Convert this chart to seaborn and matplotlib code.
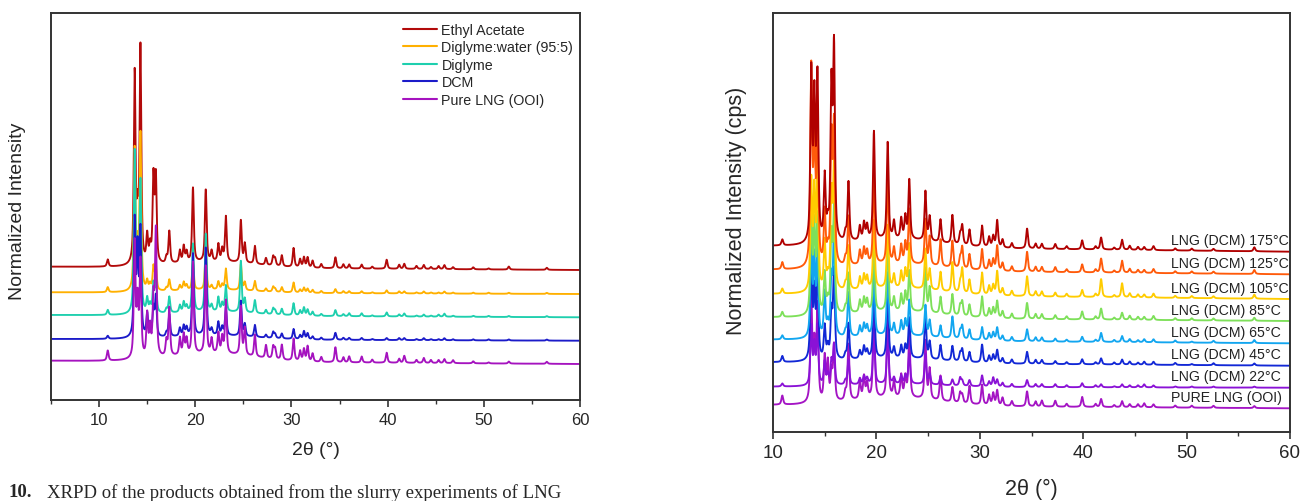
import numpy as np
import pandas as pd
import matplotlib
matplotlib.use("Agg")
import matplotlib.pyplot as plt
import seaborn as sns
from matplotlib.ticker import MultipleLocator

# ---------------- data ----------------
PEAK_POS = [10.9, 13.7, 14.0, 14.3, 15.0, 15.3, 15.65, 15.9, 17.0, 17.3,
            18.4, 18.8, 19.1, 19.76, 21.09, 21.7, 22.4, 22.8, 23.18, 24.74,
            25.15, 26.2, 27.35, 28.1, 28.3, 29.0, 30.22, 30.9, 31.3, 31.68,
            32.2, 33.1, 34.57, 35.4, 36.0, 37.3, 38.4, 39.9, 41.2, 41.73,
            43.0, 43.76, 44.5, 45.3, 45.9, 46.8, 48.9, 50.5, 52.6, 56.55]

# left panel: slurry experiments
LEFT_NAMES = ["Ethyl Acetate", "Diglyme:water (95:5)", "Diglyme", "DCM", "Pure LNG (OOI)"]
LEFT_BASE_START = [133.3, 107.7, 85.0, 61.0, 39.3]
LEFT_BASE_END = [130.0, 106.0, 82.7, 59.3, 36.0]
LEFT_HUMP = [6, 3, 4, 4, 8]
H_EA = [7, 190, 45, 215, 27, 16, 85, 85, 6, 32,
        12, 16, 10, 74, 72, 10, 17, 12, 45, 42,
        19, 18, 7, 9, 7, 11, 19, 8, 10, 10,
        7, 4, 11, 4, 4, 4, 2, 9, 4, 5,
        3, 4, 2, 3, 4, 2, 2, 1, 3, 2]
H_DW = [5, 140, 38, 155, 9, 6, 23, 25, 3, 11,
        5, 8, 5, 30, 40, 4, 8, 5, 21, 26,
        8, 10, 3, 5, 3, 5, 10, 3, 5, 4,
        3, 2, 4, 2, 2, 2, 1, 3, 2, 2,
        1, 2, 1, 1, 2, 1, 1, 1, 1, 1]
H_DG = [5, 160, 38, 130, 14, 8, 28, 34, 4, 16,
        7, 10, 6, 68, 78, 6, 14, 8, 26, 51,
        13, 13, 4, 6, 4, 6, 12, 5, 8, 6,
        4, 2, 6, 2, 3, 3, 1, 4, 2, 3,
        1, 2, 1, 2, 3, 1, 1, 1, 1, 1]
H_DCM = [3, 115, 85, 105, 22, 10, 28, 40, 4, 22,
         8, 10, 8, 82, 88, 6, 13, 8, 28, 35,
         12, 12, 3, 6, 4, 5, 10, 4, 8, 6,
         3, 2, 7, 2, 2, 2, 1, 2, 2, 2,
         1, 2, 1, 1, 2, 1, 1, 1, 1, 1]
H_PURE_L = [10, 115, 55, 95, 42, 28, 55, 125, 15, 48,
            17, 20, 15, 92, 88, 14, 20, 16, 53, 48,
            27, 22, 13, 12, 10, 15, 22, 10, 12, 15,
            8, 5, 15, 5, 6, 6, 3, 10, 4, 7,
            3, 5, 3, 3, 4, 3, 2, 1, 2, 2]
LEFT_HEIGHTS = [H_EA, H_DW, H_DG, H_DCM, H_PURE_L]
LEFT_COLORS = ["#B20A0A", "#FFB000", "#1ECFAE", "#1B1BC9", "#A513BF"]

# right panel: heated DCM product
RIGHT_NAMES = ["PURE LNG (OOI)", "LNG (DCM) 22°C", "LNG (DCM) 45°C", "LNG (DCM) 65°C",
               "LNG (DCM) 85°C", "LNG (DCM) 105°C", "LNG (DCM) 125°C", "LNG (DCM) 175°C"]
RIGHT_BASE_START = [27.0, 45.3, 69.7, 92.3, 114.7, 138.0, 162.3, 186.0]
RIGHT_BASE_END = [23.7, 44.3, 66.3, 88.7, 111.0, 133.0, 157.7, 180.3]
RIGHT_HUMP = [8, 3, 5, 5, 7, 7, 7, 8]
H_RPURE = [9, 105, 55, 95, 44, 38, 28, 55, 8, 56,
           18, 22, 15, 88, 83, 15, 22, 20, 63, 58,
           30, 25, 15, 10, 8, 18, 20, 10, 12, 15,
           8, 5, 15, 5, 6, 6, 3, 10, 3, 8,
           2, 6, 3, 3, 4, 3, 2, 2, 2, 2]
H_R22 = [3, 58, 38, 58, 23, 10, 23, 39, 4, 25,
         6, 8, 6, 58, 48, 6, 8, 8, 30, 30,
         10, 8, 6, 8, 5, 6, 11, 5, 9, 7,
         4, 3, 7, 3, 3, 3, 2, 4, 2, 3,
         1, 3, 2, 2, 3, 2, 1, 1, 1, 1]
H_R45 = [6, 105, 65, 95, 33, 12, 46, 88, 5, 36,
         8, 12, 8, 73, 68, 10, 12, 12, 40, 44,
         17, 15, 15, 8, 12, 10, 18, 7, 8, 13,
         5, 4, 12, 4, 4, 3, 2, 5, 2, 6,
         2, 5, 3, 2, 3, 3, 2, 1, 2, 2]
H_R65 = [4, 95, 75, 85, 44, 12, 55, 108, 5, 44,
         10, 12, 10, 68, 63, 11, 14, 15, 35, 31,
         16, 12, 22, 8, 13, 10, 13, 7, 8, 13,
         5, 4, 12, 4, 4, 3, 2, 5, 2, 9,
         2, 6, 3, 2, 3, 3, 2, 1, 2, 3]
H_R85 = [5, 105, 85, 95, 40, 12, 75, 105, 6, 40,
         12, 14, 12, 68, 68, 13, 16, 18, 40, 44,
         25, 17, 21, 10, 14, 12, 21, 9, 10, 17,
         7, 5, 16, 5, 5, 4, 3, 8, 3, 11,
         2, 7, 4, 3, 3, 4, 2, 2, 2, 3]
H_R105 = [5, 108, 95, 122, 48, 12, 92, 128, 6, 44,
          12, 14, 12, 68, 63, 13, 16, 18, 44, 40,
          20, 19, 30, 10, 24, 14, 22, 9, 10, 24,
          7, 5, 20, 5, 5, 4, 3, 7, 3, 18,
          2, 14, 4, 3, 3, 4, 2, 2, 2, 4]
H_R125 = [7, 195, 125, 145, 53, 14, 125, 138, 7, 49,
          14, 16, 13, 88, 83, 15, 18, 20, 54, 45,
          28, 27, 27, 10, 21, 15, 21, 10, 11, 25,
          8, 5, 20, 5, 5, 5, 3, 8, 3, 14,
          2, 12, 4, 3, 3, 4, 2, 2, 2, 4]
H_R175 = [6, 168, 138, 162, 64, 15, 150, 190, 8, 59,
          14, 17, 14, 108, 97, 17, 20, 22, 59, 49,
          24, 23, 29, 10, 19, 16, 21, 10, 11, 27,
          8, 5, 20, 5, 5, 5, 3, 9, 3, 12,
          2, 10, 4, 3, 3, 4, 2, 2, 2, 4]
RIGHT_HEIGHTS = [H_RPURE, H_R22, H_R45, H_R65, H_R85, H_R105, H_R125, H_R175]
RIGHT_COLORS = ["#A414C4", "#8A12D6", "#1228D6", "#12A6F0", "#7EE05A", "#FFCC00", "#FF5A0A", "#B00000"]

# ---------------- profile construction ----------------
FWHM = 0.21
ETA = 0.7
HUMP_POS, HUMP_FWHM = 22.0, 10.0


def pattern(x, heights, b0, b1, hump):
    y = b0 + (b1 - b0) * (x - x[0]) / (x[-1] - x[0])
    hw = FWHM / 2
    for p, h in zip(PEAK_POS, heights):
        d = x - p
        lor = 1.0 / (1.0 + (d / hw) ** 2)
        gau = np.exp(-np.log(2) * (d / hw) ** 2)
        y = y + h * (ETA * lor + (1 - ETA) * gau)
    y = y + hump * np.exp(-4 * np.log(2) * ((x - HUMP_POS) / HUMP_FWHM) ** 2)
    return y


def build(xmin, names, heights, b0s, b1s, humps):
    x = np.arange(xmin, 60.0001, 0.02)
    frames = []
    for n, h, b0, b1, hu in zip(names, heights, b0s, b1s, humps):
        frames.append(pd.DataFrame({"2theta": x, "I": pattern(x, h, b0, b1, hu), "sample": n}))
    return pd.concat(frames, ignore_index=True)


df_left = build(5.0, LEFT_NAMES, LEFT_HEIGHTS, LEFT_BASE_START, LEFT_BASE_END, LEFT_HUMP)
df_right = build(10.0, RIGHT_NAMES, RIGHT_HEIGHTS, RIGHT_BASE_START, RIGHT_BASE_END, RIGHT_HUMP)

# ---------------- plotting ----------------
sns.set_theme(style="ticks")
plt.rcParams["font.family"] = ["Liberation Sans", "DejaVu Sans"]

W, H = 1305, 502
fig = plt.figure(figsize=(W / 100, H / 100), dpi=100)
fig.patch.set_facecolor("white")

axL = fig.add_axes([51 / W, (H - 401) / H, (580 - 51) / W, (401 - 14) / H])
axR = fig.add_axes([773 / W, (H - 433) / H, (1290 - 773) / W, (433 - 14) / H])

sns.lineplot(data=df_left, x="2theta", y="I", hue="sample", hue_order=LEFT_NAMES,
             palette=dict(zip(LEFT_NAMES, LEFT_COLORS)), estimator=None,
             linewidth=1.35, ax=axL)
sns.lineplot(data=df_right, x="2theta", y="I", hue="sample", hue_order=RIGHT_NAMES,
             palette=dict(zip(RIGHT_NAMES, RIGHT_COLORS)), estimator=None,
             linewidth=1.35, ax=axR, legend=False)

axL.set_xlim(5, 60)
axL.set_ylim(0, 387)
axR.set_xlim(10, 60)
axR.set_ylim(0, 419)

for ax, tfs in ((axL, 12), (axR, 13.5)):
    ax.set_yticks([])
    ax.xaxis.set_major_locator(MultipleLocator(10))
    ax.xaxis.set_minor_locator(MultipleLocator(5))
    ax.tick_params(axis="x", which="major", length=5, width=1.2, direction="out",
                   labelsize=tfs, pad=4, color="#333333")
    ax.tick_params(axis="x", which="minor", length=3, width=1.0, direction="out",
                   color="#333333")
    for s in ax.spines.values():
        s.set_visible(True)
        s.set_linewidth(1.4)
        s.set_color("#333333")

axL.set_xlabel("2θ (°)", fontsize=14)
axL.set_ylabel("Normalized Intensity", fontsize=14)
axL.xaxis.set_label_coords(0.5, -0.105)
axL.yaxis.set_label_coords(-0.048, 0.49)

axR.set_xlabel("2θ (°)", fontsize=15.5)
axR.set_ylabel("Normalized Intensity (cps)", fontsize=15.5)
axR.xaxis.set_label_coords(0.5, -0.11)
axR.yaxis.set_label_coords(-0.05, 0.53)

sns.move_legend(axL, loc="upper left", bbox_to_anchor=(0.665, 0.975), frameon=False,
                title=None, fontsize=10.3, handlelength=2.4, handletextpad=0.3,
                labelspacing=0.25, borderpad=0, borderaxespad=0)
for line in axL.get_legend().get_lines():
    line.set_linewidth(1.5)

# sample labels in the right panel
for name, b1 in zip(RIGHT_NAMES, RIGHT_BASE_END):
    axR.text(48.5, b1 + 11.5, name, fontsize=10.2, va="center", ha="left", color="#222222")

# caption fragment at the bottom
fig.text(8 / W, 1 - 484 / H, "10.", fontsize=13.5, fontweight="bold",
         family=["Liberation Serif", "DejaVu Serif"], va="top", ha="left")
fig.text(47 / W, 1 - 484 / H, "XRPD of the products obtained from the slurry experiments of LNG",
         fontsize=13.5, family=["Liberation Serif", "DejaVu Serif"], va="top", ha="left")

fig.savefig("out.png", dpi=100, facecolor="white")
